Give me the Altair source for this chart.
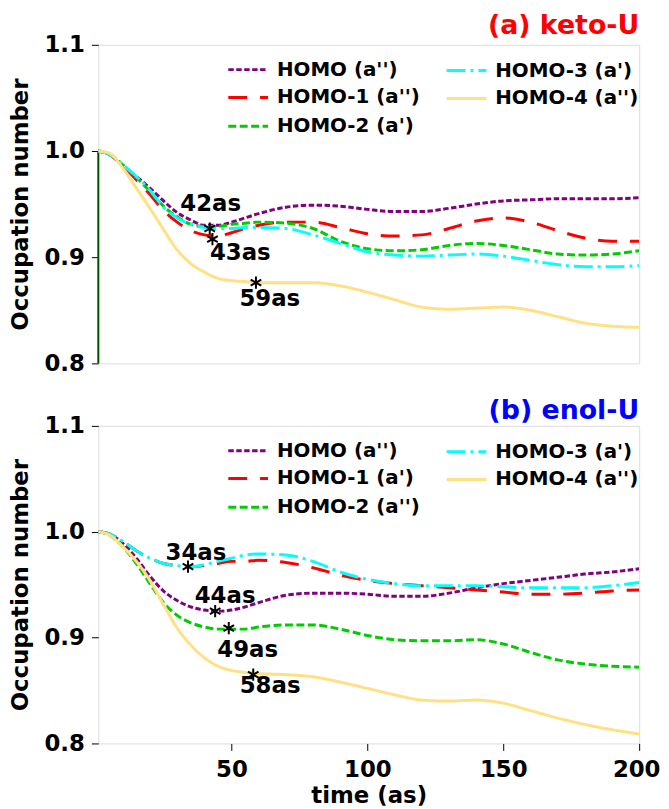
import altair as alt
import pandas as pd

FONT = "DejaVu Sans"

time = [1, 5, 10, 15, 20, 25, 30, 35, 40, 45, 50, 55, 60, 70, 80, 90, 100,
        110, 120, 130, 140, 150, 160, 170, 180, 190, 200]

# (a) keto-U
a_homo  = [1.000, 0.997, 0.986, 0.976, 0.965, 0.953, 0.942, 0.935, 0.930, 0.930, 0.933, 0.937, 0.941,
           0.947, 0.949, 0.948, 0.945, 0.943, 0.943, 0.946, 0.950, 0.953, 0.954, 0.955, 0.955, 0.955, 0.956]
a_homo1 = [1.000, 0.997, 0.986, 0.973, 0.959, 0.944, 0.933, 0.925, 0.921, 0.920, 0.923, 0.927, 0.930,
           0.933, 0.933, 0.928, 0.922, 0.920, 0.921, 0.927, 0.934, 0.937, 0.933, 0.925, 0.918, 0.915, 0.915]
a_homo2 = [1.000, 0.997, 0.987, 0.975, 0.962, 0.948, 0.938, 0.931, 0.929, 0.929, 0.931, 0.932, 0.933,
           0.932, 0.927, 0.915, 0.908, 0.906, 0.907, 0.911, 0.913, 0.911, 0.907, 0.903, 0.902, 0.903, 0.906]
a_homo3 = [1.000, 0.997, 0.987, 0.976, 0.963, 0.947, 0.937, 0.931, 0.928, 0.927, 0.927, 0.928, 0.928,
           0.927, 0.921, 0.913, 0.905, 0.902, 0.901, 0.902, 0.903, 0.901, 0.897, 0.893, 0.891, 0.891, 0.892]
a_homo4 = [1.000, 0.998, 0.984, 0.965, 0.946, 0.926, 0.907, 0.894, 0.886, 0.880, 0.878, 0.877, 0.876,
           0.876, 0.876, 0.873, 0.867, 0.860, 0.853, 0.851, 0.852, 0.853, 0.850, 0.844, 0.838, 0.835, 0.834]
a_labels = ["HOMO (a'')", "HOMO-1 (a'')", "HOMO-2 (a')", "HOMO-3 (a')", "HOMO-4 (a'')"]
a_star_t = [42, 43, 59]
a_star_v = [0.927, 0.917, 0.876]
a_star_text = ["42as", "43as", "59as"]

# (b) enol-U
b_homo  = [1.000, 0.998, 0.989, 0.975, 0.958, 0.944, 0.935, 0.929, 0.926, 0.925, 0.926, 0.929, 0.933,
           0.940, 0.942, 0.942, 0.941, 0.939, 0.939, 0.942, 0.947, 0.951, 0.954, 0.957, 0.960, 0.962, 0.965]
b_homo1 = [1.000, 0.998, 0.991, 0.982, 0.975, 0.970, 0.968, 0.967, 0.968, 0.970, 0.972, 0.972, 0.973,
           0.971, 0.966, 0.959, 0.954, 0.951, 0.949, 0.947, 0.945, 0.943, 0.941, 0.941, 0.942, 0.944, 0.945]
b_homo2 = [1.000, 0.997, 0.986, 0.970, 0.951, 0.933, 0.921, 0.914, 0.910, 0.908, 0.908, 0.908, 0.910,
           0.912, 0.912, 0.908, 0.902, 0.898, 0.897, 0.897, 0.898, 0.894, 0.886, 0.879, 0.875, 0.873, 0.872]
b_homo3 = [1.000, 0.998, 0.991, 0.982, 0.975, 0.970, 0.968, 0.967, 0.969, 0.972, 0.975, 0.978, 0.979,
           0.978, 0.972, 0.962, 0.955, 0.951, 0.949, 0.949, 0.949, 0.948, 0.947, 0.947, 0.947, 0.949, 0.952]
b_homo4 = [1.000, 0.997, 0.986, 0.972, 0.954, 0.931, 0.909, 0.893, 0.881, 0.873, 0.869, 0.867, 0.866,
           0.865, 0.863, 0.858, 0.852, 0.846, 0.841, 0.840, 0.841, 0.838, 0.831, 0.824, 0.818, 0.813, 0.809]
b_labels = ["HOMO (a'')", "HOMO-1 (a')", "HOMO-2 (a'')", "HOMO-3 (a')", "HOMO-4 (a'')"]
b_star_t = [34, 44, 49, 58]
b_star_v = [0.967, 0.925, 0.909, 0.865]
b_star_text = ["34as", "44as", "49as", "58as"]

colors = ["#800080", "#ff0000", "#00cc00", "#00ffff", "#ffe082"]
dashes = [[5.5, 2.5], [19, 13], [8, 3.5], [19, 5, 3, 5], [1, 0]]
# legend slot (pixel, relative to plot area) for each series: column x, row y
leg_col = [131, 131, 131, 351, 351]
leg_row = [25, 53, 82, 26, 54]

ASTERISK = "M0,-1L0,1M-0.87,-0.5L0.87,0.5M-0.87,0.5L0.87,-0.5"
TICK_FS = 23
LAB_FS = 23


def panel(series, labels, title, title_color, title_y, st_t, st_v, st_txt, offsets, bottom, edge=False):
    if bottom:
        xaxis = alt.Axis(values=[50, 100, 150, 200], title="time (as)", labelFontSize=TICK_FS,
                         labelFontWeight="bold", titleFontSize=TICK_FS, titleFontWeight="bold",
                         labelFont=FONT, titleFont=FONT, tickSize=7, tickColor="black",
                         labelColor="black", titleColor="black", grid=False, domain=False,
                         labelFlush=True, labelFlushOffset=21, labelPadding=8, titlePadding=4)
    else:
        xaxis = None
    yaxis = alt.Axis(values=[0.8, 0.9, 1.0, 1.1], format=".1f", title="Occupation number",
                     labelFontSize=TICK_FS, labelFontWeight="bold", titleFontSize=TICK_FS,
                     titleFontWeight="bold", labelFont=FONT, titleFont=FONT, tickSize=7,
                     tickColor="black", labelColor="black", titleColor="black", grid=False,
                     domain=False, labelPadding=7, titlePadding=12)
    X = alt.X("t:Q", scale=alt.Scale(domain=[1, 200], nice=False, zero=False), axis=xaxis)
    Y = alt.Y("v:Q", scale=alt.Scale(domain=[0.8, 1.1], nice=False, zero=False), axis=yaxis)

    layers = []
    if edge:
        edf = pd.DataFrame({"t": [1], "v": [0.8], "v2": [1.0]})
        layers.append(alt.Chart(edf).mark_rule(color="#005000", strokeWidth=2).encode(
            x=X, y=Y, y2="v2:Q"))
    for k, (lab, vals) in enumerate(zip(labels, series)):
        df = pd.DataFrame({"t": time, "v": vals})
        layers.append(alt.Chart(df).mark_line(
            strokeWidth=3, interpolate="monotone", clip=True, color=colors[k],
            strokeDash=dashes[k]).encode(x=X, y=Y))
    sdf = pd.DataFrame({"t": st_t, "v": st_v, "label": st_txt})
    layers.append(alt.Chart(sdf).mark_point(shape=ASTERISK, size=150, strokeWidth=2, color="black",
                                            filled=False, opacity=1).encode(x=X, y=Y))
    for i, (dx, dy) in enumerate(offsets):
        sub = pd.DataFrame({"t": [st_t[i]], "v": [st_v[i]], "label": [st_txt[i]]})
        layers.append(alt.Chart(sub).mark_text(
            dx=dx, dy=dy, fontSize=LAB_FS, fontWeight="bold", font=FONT, color="black",
            align="center", baseline="middle").encode(x=X, y=Y, text="label:N"))
    # legend drawn inside the plot
    for k, lab in enumerate(labels):
        ldf = pd.DataFrame({"label": [lab]})
        layers.append(alt.Chart(ldf).mark_rule(strokeWidth=3, color=colors[k], strokeDash=dashes[k]).encode(
            x=alt.value(leg_col[k]), x2=alt.value(leg_col[k] + 40), y=alt.value(leg_row[k])))
        layers.append(alt.Chart(ldf).mark_text(
            fontSize=20, fontWeight="bold", font=FONT, color="black", align="left",
            baseline="middle").encode(x=alt.value(leg_col[k] + 49), y=alt.value(leg_row[k]),
                                      text="label:N"))
    # panel title, right-aligned above the plot
    tdf = pd.DataFrame({"label": [title]})
    layers.append(alt.Chart(tdf).mark_text(
        fontSize=27, fontWeight="bold", font=FONT, color=title_color, align="right",
        baseline="middle").encode(x=alt.value(545), y=alt.value(title_y), text="label:N"))
    return alt.layer(*layers).properties(width=545, height=321 if not bottom else 320)


top = panel([a_homo, a_homo1, a_homo2, a_homo3, a_homo4], a_labels, "(a) keto-U", "#ff0000", -19,
            a_star_t, a_star_v, a_star_text, [(1, -25), (28, 14), (14, 17)], False, edge=True)
bot = panel([b_homo, b_homo1, b_homo2, b_homo3, b_homo4], b_labels, "(b) enol-U", "#0000ff", -15,
            b_star_t, b_star_v, b_star_text, [(8, -14), (10, -15), (19, 22), (17, 11)], True)

chart = alt.vconcat(top, bot, spacing=20).properties(
    padding={"left": 0, "top": 0, "right": 0, "bottom": 2}).configure_view(
    stroke="black", strokeWidth=1.5).configure(font=FONT)

chart.save("out.html", embed_options={"renderer": "svg", "actions": False})
